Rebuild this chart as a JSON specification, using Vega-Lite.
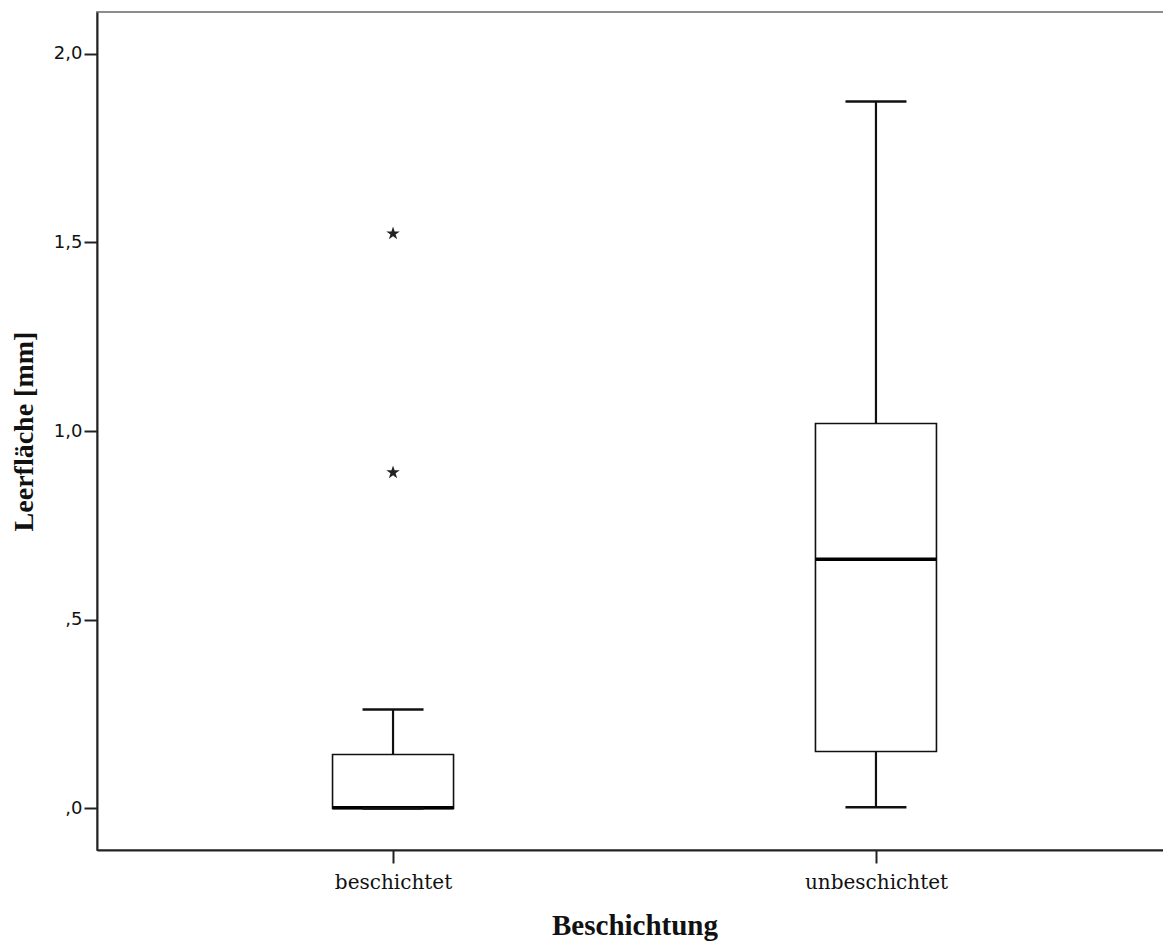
{
  "$schema": "https://vega.github.io/schema/vega-lite/v6.json",
  "autosize": {"type": "none"},
  "padding": {"left": 97, "top": 12, "right": 0, "bottom": 91},
  "width": 1075,
  "height": 838,
  "background": "white",
  "config": {
    "view": {"stroke": "#8c8c8c", "strokeWidth": 2},
    "axis": {"grid": false, "domainColor": "#222222", "domainWidth": 2, "tickColor": "#222222", "tickWidth": 2, "tickSize": 13}
  },
  "datasets": {
    "stats": [
      {"group": "beschichtet", "lower": 0, "q1": 0, "median": 0.002, "q3": 0.143, "upper": 0.262},
      {"group": "unbeschichtet", "lower": 0.003, "q1": 0.151, "median": 0.66, "q3": 1.02, "upper": 1.873}
    ],
    "outliers": [
      {"group": "beschichtet", "value": 1.523},
      {"group": "beschichtet", "value": 0.89}
    ]
  },
  "encoding": {
    "x": {
      "field": "group", "type": "nominal",
      "scale": {"type": "point", "padding": 0.613, "domain": ["beschichtet", "unbeschichtet"]},
      "axis": {
        "title": "Beschichtung", "labelAngle": 0,
        "labelFont": "DejaVu Serif", "labelFontSize": 20, "labelColor": "#111", "labelPadding": 9,
        "titleFont": "Liberation Serif", "titleFontSize": 29, "titleFontWeight": "bold", "titleColor": "#111", "titlePadding": 19
      }
    }
  },
  "layer": [
    {
      "data": {"name": "stats"},
      "mark": {"type": "rule", "color": "#111", "strokeWidth": 2.2},
      "encoding": {
        "y": {"field": "lower", "type": "quantitative",
          "scale": {"domain": [-0.11, 2.11], "nice": false, "zero": false},
          "axis": {
            "title": "Leerfläche [mm]", "values": [0, 0.5, 1, 1.5, 2],
            "labelExpr": "datum.value < 1 ? ',' + substring(format(datum.value, '.1f'), 2) : replace(format(datum.value, '.1f'), '.', ',')",
            "labelFont": "DejaVu Sans", "labelFontSize": 18, "labelColor": "#111", "labelPadding": 2,
            "titleFont": "Liberation Serif", "titleFontSize": 28, "titleFontWeight": "bold", "titleColor": "#111", "titlePadding": 15
          }
        },
        "y2": {"field": "upper"}
      }
    },
    {
      "data": {"name": "stats"},
      "mark": {"type": "bar", "size": 121, "fill": "white", "stroke": "#111", "strokeWidth": 1.6},
      "encoding": {
        "y": {"field": "q1", "type": "quantitative"},
        "y2": {"field": "q3"}
      }
    },
    {
      "data": {"name": "stats"},
      "mark": {"type": "tick", "size": 121, "thickness": 3.5, "color": "#000", "opacity": 1},
      "encoding": {"y": {"field": "median", "type": "quantitative"}}
    },
    {
      "data": {"name": "stats"},
      "mark": {"type": "tick", "size": 61, "thickness": 2.5, "color": "#111", "opacity": 1},
      "encoding": {"y": {"field": "upper", "type": "quantitative"}}
    },
    {
      "data": {"name": "stats"},
      "mark": {"type": "tick", "size": 61, "thickness": 2.5, "color": "#111", "opacity": 1},
      "encoding": {"y": {"field": "lower", "type": "quantitative"}}
    },
    {
      "data": {"name": "outliers"},
      "mark": {"type": "point", "filled": true, "color": "#222", "opacity": 1, "size": 200,
        "shape": "M0,-1L0.2245,-0.309L0.951,-0.309L0.363,0.118L0.588,0.809L0,0.382L-0.588,0.809L-0.363,0.118L-0.951,-0.309L-0.2245,-0.309Z"},
      "encoding": {"y": {"field": "value", "type": "quantitative"}}
    }
  ]
}
